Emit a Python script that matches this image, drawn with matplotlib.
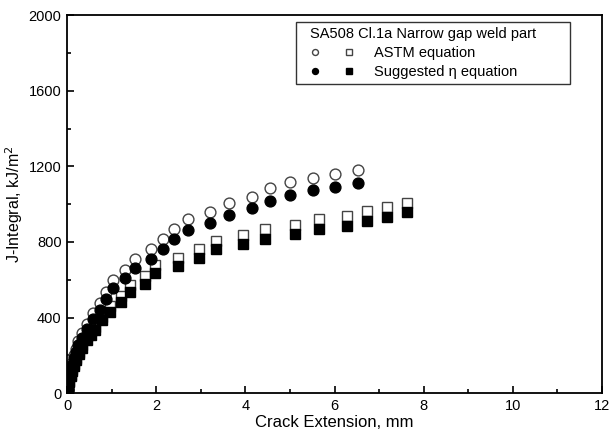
import matplotlib
matplotlib.use("Agg")
import matplotlib.pyplot as plt
from matplotlib.legend_handler import HandlerTuple
from matplotlib.patches import Rectangle
from matplotlib.ticker import MultipleLocator

plt.rcParams['font.family'] = ['Liberation Sans', 'DejaVu Sans']

# crack extension (mm) and J values (kJ/m2) for the circle series
circ_da = [0.01, 0.03, 0.05, 0.08, 0.11, 0.15, 0.19, 0.25, 0.34, 0.44, 0.58, 0.73, 0.87, 1.04,
           1.29, 1.52, 1.88, 2.15, 2.39, 2.72, 3.21, 3.63, 4.14, 4.56, 5.0, 5.51, 6.01, 6.53]
circ_astm = [20, 45, 80, 120, 160, 200, 235, 275, 318, 368, 425, 478, 535, 597,
             652, 708, 762, 817, 869, 921, 957, 1006, 1040, 1083, 1115, 1139, 1159, 1178]
circ_eta = [18, 42, 74, 110, 148, 185, 218, 255, 292, 340, 394, 442, 500, 557,
            608, 660, 712, 763, 815, 862, 900, 942, 977, 1018, 1049, 1074, 1093, 1110]

# square series
sq_da = [0.01, 0.03, 0.05, 0.08, 0.11, 0.15, 0.2, 0.26, 0.34, 0.44, 0.53, 0.63, 0.79, 0.97, 1.22,
         1.41, 1.74, 1.98, 2.48, 2.96, 3.35, 3.95, 4.44, 5.11, 5.66, 6.27, 6.72, 7.18, 7.62]
sq_astm = [15, 38, 65, 95, 125, 155, 185, 218, 255, 300, 330, 352, 402, 461, 516,
           570, 619, 676, 715, 762, 806, 838, 871, 891, 919, 937, 963, 986, 1007]
sq_eta = [14, 35, 60, 88, 117, 145, 173, 205, 240, 282, 310, 332, 386, 430, 481,
          533, 580, 634, 670, 716, 760, 787, 818, 840, 866, 884, 912, 933, 956]

fig = plt.figure(figsize=(6.1, 4.32), dpi=100)
ax = fig.add_axes([0.110, 0.090, 0.877, 0.875])

oc, = ax.plot(circ_da, circ_astm, 'o', ms=7.8, mfc='white', mec='#444444', mew=1.0, ls='none')
os_, = ax.plot(sq_da, sq_astm, 's', ms=6.8, mfc='white', mec='#444444', mew=1.0, ls='none')
fc, = ax.plot(circ_da, circ_eta, 'o', ms=7.8, mfc='black', mec='black', ls='none')
fs, = ax.plot(sq_da, sq_eta, 's', ms=6.8, mfc='black', mec='black', ls='none')

ax.set_xlim(0, 12)
ax.set_ylim(0, 2000)
ax.xaxis.set_major_locator(MultipleLocator(2))
ax.xaxis.set_minor_locator(MultipleLocator(1))
ax.yaxis.set_major_locator(MultipleLocator(400))
ax.yaxis.set_minor_locator(MultipleLocator(200))
ax.tick_params(which='both', direction='in', top=False, right=False, labelsize=10.5, width=1.2)
ax.tick_params(which='major', length=5, pad=4)
ax.tick_params(which='minor', length=3)
for s in ax.spines.values():
    s.set_linewidth(1.3)

ax.set_xlabel('Crack Extension, mm', fontsize=12, labelpad=2)
ax.set_ylabel('J-Integral, kJ/m$^2$', fontsize=11.5, labelpad=3)

# legend frame drawn separately so it can be wider than the entries
ax.add_patch(Rectangle((0.428, 0.817), 0.512, 0.164, transform=ax.transAxes,
                       facecolor='white', edgecolor='#333333', lw=1.0, zorder=4))
leg = ax.legend([(oc, os_), (fc, fs)], ['ASTM equation', 'Suggested η equation'],
                handler_map={tuple: HandlerTuple(ndivide=None, pad=1.6)},
                title='SA508 Cl.1a Narrow gap weld part', title_fontsize=10.5, fontsize=10.5,
                alignment='left', loc='upper left', bbox_to_anchor=(0.446, 0.981),
                markerscale=0.55, handlelength=3.0, handletextpad=1.35,
                labelspacing=0.35, borderpad=0.3, borderaxespad=0, frameon=False)
leg.set_zorder(5)

fig.savefig('out.png', dpi=100)
